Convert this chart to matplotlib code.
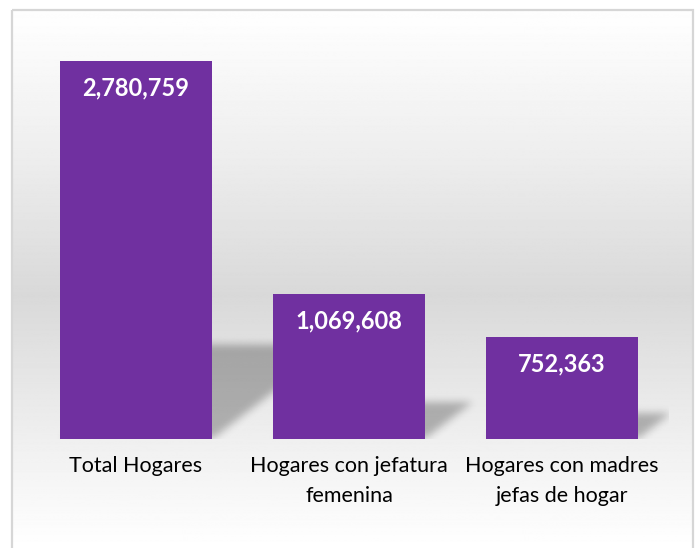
import numpy as np
import matplotlib.pyplot as plt
from matplotlib.path import Path
from matplotlib.patches import Rectangle

categories = ['Total Hogares', 'Hogares con jefatura\nfemenina', 'Hogares con madres\njefas de hogar']
hogares = [2780759, 1069608, 752363]
value_labels = ['2,780,759', '1,069,608', '752,363']

W, H = 698, 548
fig = plt.figure(figsize=(W / 100, H / 100), dpi=100)
plt.rcParams['font.family'] = ['Lato', 'DejaVu Sans']

# background with vertical gradient inside a thin frame
bg = fig.add_axes([0, 0, 1, 1], zorder=0)
bg.set_axis_off()
bg.set_xlim(0, W)
bg.set_ylim(H, 0)
rows = np.arange(H)
stops_y = [10, 150, 290, 440, 548]
stops_v = [0.995, 0.93, 0.85, 0.94, 1.0]
grad = np.interp(rows, stops_y, stops_v)
img = np.repeat(grad[:, None], 2, axis=1)
bg.imshow(img, cmap='gray', vmin=0, vmax=1, extent=[12, 693, H, 10], aspect='auto')
bg.add_patch(Rectangle((12, 10), 681, 560, fill=False, edgecolor='#d6d6d6', lw=1.6))

ymax = 3.0e6
ax = fig.add_axes([29.5 / W, 1 - 439 / H, 639 / W, (378 / hogares[0] * ymax) / H], zorder=1)
ax.patch.set_alpha(0)
ax.set_xlim(-0.5, 2.5)
ax.set_ylim(0, ymax)

x = np.arange(len(categories))
bw = 0.714

# soft perspective shadows behind the bars
nx, ny = 640, 410
gx = np.linspace(-0.5, 2.5, nx)
gy = np.linspace(0, ymax, ny)
XX, YY = np.meshgrid(gx, gy)
pts = np.column_stack([XX.ravel(), YY.ravel()])
mask = np.zeros(nx * ny)
px_x = 639 / 3.0
px_y = (378 / hogares[0])
skew = 1.3 * px_y / px_x
for xi, v in zip(x, hogares):
    h = 0.25 * v
    d = skew * h
    poly = Path([(xi - bw / 2, 0), (xi + bw / 2, 0), (xi + bw / 2 + d, h), (xi - bw / 2 + d, h)])
    mask = np.maximum(mask, poly.contains_points(pts).astype(float))
mask = mask.reshape(ny, nx)
k = np.exp(-0.5 * (np.arange(-12, 13) / 4.0) ** 2)
k /= k.sum()
mask = np.apply_along_axis(lambda r: np.convolve(r, k, mode='same'), 1, mask)
mask = np.apply_along_axis(lambda c: np.convolve(c, k, mode='same'), 0, mask)
shadow = np.zeros((ny, nx, 4))
shadow[..., 3] = mask * 0.27
ax.imshow(shadow, extent=[-0.5, 2.5, 0, ymax], origin='lower', aspect='auto', zorder=1)

ax.bar(x, hogares, width=bw, color='#7030a0', zorder=2)
for xi, v, lab in zip(x, hogares, value_labels):
    ax.annotate(lab, (xi, v), xytext=(0, -27), textcoords='offset pixels',
                ha='center', va='center', color='white', fontsize=17, fontweight='bold', zorder=3)

ax.set_xticks(x)
ax.set_xticklabels(categories, fontsize=15.5, linespacing=1.65)
ax.tick_params(axis='x', length=0, pad=12)
ax.set_yticks([])
for s in ax.spines.values():
    s.set_visible(False)

fig.savefig('out.png', dpi=100)
